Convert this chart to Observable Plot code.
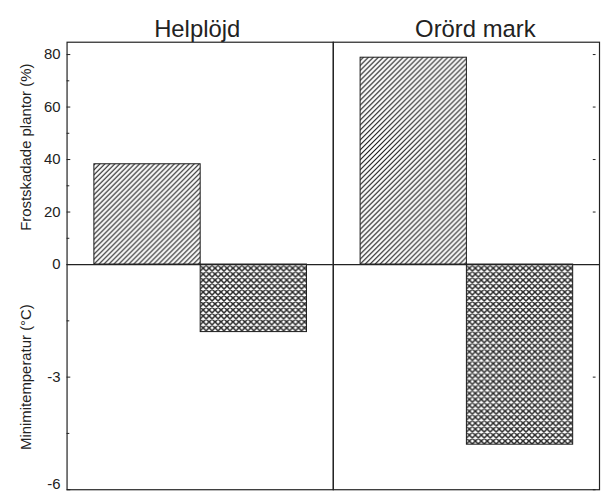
<!DOCTYPE html>
<html>
<head>
<meta charset="utf-8">
<script src="https://cdn.jsdelivr.net/npm/d3@7"></script>
<script src="https://cdn.jsdelivr.net/npm/@observablehq/plot@0.6"></script>
<style>
  html, body { margin: 0; padding: 0; background: #fff; overflow: hidden; }
  #chart { width: 601px; height: 495px; overflow: hidden; }
</style>
</head>
<body>
<div id="chart"></div>
<script>
// ---- data ----
const sites = ["Helplöjd", "Orörd mark"];
const frostPct = [38.2, 78.8];          // Frostskadade plantor (%)
const minTemp = [-1.8, -4.8];           // Minimitemperatur (°C)
const pctTicks = [0, 20, 40, 60, 80];
const pctMinor = [10, 30, 50, 70];
const tempTicks = [-3, -6];
const tempMinor = [-1.5, -4.5];
const yLabelTop = "Frostskadade plantor (%)";
const yLabelBottom = "Minimitemperatur (°C)";

// temperature is drawn below zero on a shared axis: 1 °C = K axis units
const K = 14.3;
const yTop = 84.7;

const rows = [];
sites.forEach((s, i) => {
  rows.push({site: s, kind: "frost", v: frostPct[i]});
  rows.push({site: s, kind: "temp", v: minTemp[i] * K});
});

const majorVals = [...pctTicks, ...tempTicks.map(t => t * K)];
const minorVals = [...pctMinor, ...tempMinor.map(t => t * K)];
const rightVals = [...pctTicks.filter(d => d !== 0), ...tempTicks.map(t => t * K)];
const yMin = -6 * K;
const fmt = d => d >= 0 ? String(d) : String(Math.round(d / K));

const font = "Liberation Sans, Arial, Helvetica, sans-serif";

const W = 605, ML = 66.5, MR = 1;
const facetW = (W - ML - MR) / 2;

const plot = Plot.plot({
  width: W,
  height: 495,
  marginLeft: ML,
  marginRight: MR,
  marginTop: 42,
  marginBottom: 2.5,
  style: {fontFamily: font, fontSize: "15px", color: "#222", background: "#fff"},
  fx: {domain: sites, padding: 0, axis: null},
  x: {domain: ["frost", "temp"], paddingInner: 0, paddingOuter: 0.25, axis: null},
  y: {domain: [yMin, yTop], axis: null},
  marks: [
    Plot.barY(rows.filter(d => d.kind === "frost"), {fx: "site", x: "kind", y: "v", fill: "url(#hatch)", stroke: "#1a1a1a", strokeWidth: 1}),
    Plot.barY(rows.filter(d => d.kind === "temp"), {fx: "site", x: "kind", y: "v", fill: "url(#cross)", stroke: "#1a1a1a", strokeWidth: 1}),
    Plot.ruleY([0], {stroke: "#222", strokeWidth: 1.2}),
    Plot.frame({stroke: "#222", strokeWidth: 1.2}),
    // left tick labels (the bottom one nudged up so it stays inside the picture)
    Plot.text(majorVals.filter(d => d !== yMin), {fx: () => sites[0], y: d => d, text: fmt, frameAnchor: "left", textAnchor: "end", dx: -6.5, fontSize: 15, fill: "#222"}),
    Plot.text(majorVals.filter(d => d === yMin), {fx: () => sites[0], y: d => d, text: fmt, frameAnchor: "left", textAnchor: "end", dx: -6.5, dy: -6, fontSize: 15, fill: "#222"}),
    // inward tick marks (left major, left minor, right major)
    Plot.ruleY(majorVals, {fx: () => sites[0], y: d => d, insetRight: facetW - 4.5, stroke: "#222", strokeWidth: 1}),
    Plot.ruleY(minorVals, {fx: () => sites[0], y: d => d, insetRight: facetW - 3.5, stroke: "#222", strokeWidth: 1}),
    Plot.ruleY(rightVals, {fx: () => sites[1], y: d => d, insetLeft: facetW - 7, insetRight: 3.5, stroke: "#222", strokeWidth: 1}),
    // panel titles
    Plot.text([sites[0]], {fx: d => d, text: d => d, frameAnchor: "top", lineAnchor: "bottom", dy: -5, dx: -3, fontSize: 24, fill: "#222"}),
    Plot.text([sites[1]], {fx: d => d, text: d => d, frameAnchor: "top", lineAnchor: "bottom", dy: -5, dx: 9, fontSize: 24, fill: "#222"}),
    // y axis titles
    Plot.text([yLabelTop], {fx: () => sites[0], text: d => d, frameAnchor: "left", textAnchor: "middle", y: () => 44.7, rotate: -90, dx: -41.5, fontSize: 15, fill: "#222"}),
    Plot.text([yLabelBottom], {fx: () => sites[0], text: d => d, frameAnchor: "left", textAnchor: "middle", y: () => -3 * K, rotate: -90, dx: -41.5, fontSize: 15, fill: "#222"})
  ]
});

const defs = `
<pattern id="hatch" patternUnits="userSpaceOnUse" width="5" height="5">
  <rect width="5" height="5" fill="#fff"/>
  <path d="M-1,1 L1,-1 M0,5 L5,0 M4,6 L6,4" stroke="#111" stroke-width="1.1"/>
</pattern>
<pattern id="cross" patternUnits="userSpaceOnUse" width="6" height="6">
  <rect width="6" height="6" fill="#fff"/>
  <path d="M-1,1 L1,-1 M0,6 L6,0 M5,7 L7,5 M-1,5 L1,7 M0,0 L6,6 M5,-1 L7,1" stroke="#2a2a2a" stroke-width="1.55"/>
</pattern>`;
d3.select(plot).insert("defs", ":first-child").html(defs);

document.getElementById("chart").appendChild(plot);
</script>
</body>
</html>
